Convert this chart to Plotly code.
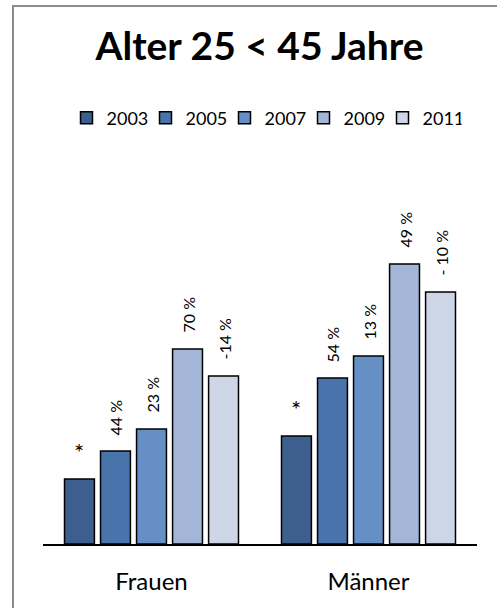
import plotly.graph_objects as go

# Altersgruppe 25 < 45 Jahre: Werte je Jahrgang und Geschlecht
categories = ["Frauen", "Männer"]
years = ["2003", "2005", "2007", "2009", "2011"]
values = {
    "2003": [65, 108],
    "2005": [93, 166],
    "2007": [115, 188],
    "2009": [195, 280],
    "2011": [168, 252],
}
change_labels = {
    "2003": ["*", "*"],
    "2005": ["44 %", "54 %"],
    "2007": ["23 %", "13 %"],
    "2009": ["70 %", "49 %"],
    "2011": ["-14 %", "- 10 %"],
}
colors = {
    "2003": "#3D5F8D",
    "2005": "#4873AB",
    "2007": "#6690C5",
    "2009": "#A3B6D7",
    "2011": "#CDD6E7",
}

FONT = "Lato"
W, H = 497, 608
L, R, T, B = 43, 20, 130, 64
y_max = H - T - B  # one data unit per pixel
BARGAP = 0.17

fig = go.Figure()
for yr in years:
    fig.add_trace(go.Bar(
        name=yr,
        x=categories,
        y=values[yr],
        marker=dict(color=colors[yr], line=dict(color="#000000", width=1.5)),
    ))

# change labels above each bar, placed at the bar's slot inside the group
slot = (1 - BARGAP) / len(years)
for i, yr in enumerate(years):
    for ci, cat in enumerate(categories):
        txt = change_labels[yr][ci]
        rotated = txt != "*"
        fig.add_annotation(
            x=ci + (i - (len(years) - 1) / 2) * slot,
            y=values[yr][ci],
            xref="x", yref="y",
            text=txt,
            showarrow=False,
            textangle=-90 if rotated else 0,
            xanchor="center", yanchor="bottom",
            yshift=14 if rotated else 11,
            font=dict(family=FONT, size=16 if rotated else 24, color="#000000"),
        )

# outer frame of the chart area
pw = W - L - R
ph = H - T - B
fig.add_shape(type="rect", xref="paper", yref="paper",
              x0=(13 - L) / pw, x1=(W + 10 - L) / pw,
              y0=-(B + 10) / ph, y1=(H - 6 - B) / ph,
              line=dict(color="#8C8C8C", width=2), fillcolor="rgba(0,0,0,0)",
              layer="below")

fig.update_layout(
    width=W, height=H,
    margin=dict(l=L, r=R, t=T, b=B),
    paper_bgcolor="white",
    plot_bgcolor="white",
    barmode="group",
    bargap=BARGAP,
    bargroupgap=0.17,
    showlegend=True,
    title=dict(text="<b>Alter 25 < 45 Jahre</b>", x=259.5 / W, xanchor="center",
               y=1 - 46 / H, yanchor="middle",
               font=dict(family=FONT, size=39, color="#000000")),
    legend=dict(orientation="h", x=(264 - L) / pw, xanchor="center",
                y=(H - 118 - B) / ph, yanchor="middle",
                font=dict(family=FONT, size=18, color="#000000"),
                itemwidth=30, tracegroupgap=0,
                entrywidth=34, entrywidthmode="pixels",
                bgcolor="rgba(0,0,0,0)"),
    xaxis=dict(showline=True, linecolor="#000000", linewidth=1.5,
               ticks="", showgrid=False, range=[-0.5, 1.5],
               tickfont=dict(family=FONT, size=24, color="#000000"),
               ticklabelstandoff=15),
    yaxis=dict(range=[0, y_max], visible=False, showgrid=False),
)

fig.write_html("out.html")
